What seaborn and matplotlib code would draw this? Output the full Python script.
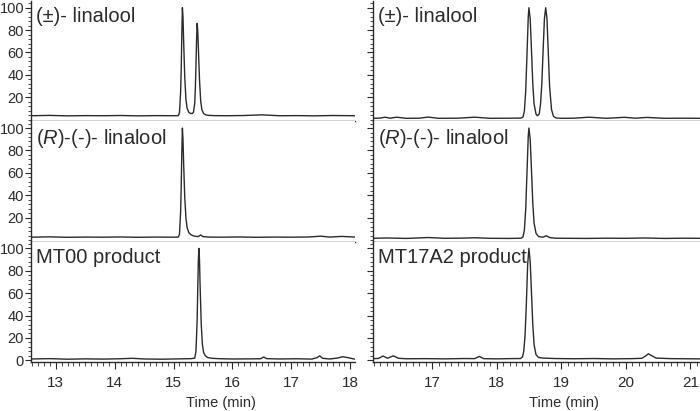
import pandas as pd
import numpy as np
import matplotlib
matplotlib.use('Agg')
import matplotlib.pyplot as plt
import seaborn as sns
from matplotlib.ticker import MultipleLocator

# Trace labels
LABELS_LEFT = ['(±)- linalool', '($\\mathit{R}$)-(-)- linalool', 'MT00 product']
LABELS_RIGHT = ['(±)- linalool', '($\\mathit{R}$)-(-)- linalool', 'MT17A2 product']

# Left column, (±)-linalool standard
t_rac_l = [12.58, 12.9, 13.2, 13.5, 13.8, 14.1, 14.4, 14.7, 15.0, 15.08, 15.10, 15.12, 15.13, 15.14,
           15.15, 15.16, 15.17, 15.19, 15.21, 15.23, 15.26, 15.29, 15.32, 15.34, 15.36, 15.37, 15.38,
           15.39, 15.40, 15.41, 15.42, 15.44, 15.46, 15.48, 15.51, 15.55, 15.6, 15.7, 15.9, 16.2,
           16.5, 16.8, 17.1, 17.4, 17.7, 18.08]
y_rac_l = [3.5, 3.8, 3.4, 3.6, 3.5, 3.7, 3.4, 3.6, 3.5, 3.6, 6, 25, 45, 75,
           100, 92, 72, 38, 18, 10, 6.5, 5.5, 5.5, 7, 15, 28, 48,
           70, 86, 80, 66, 36, 17, 9, 5.5, 4.2, 3.8, 3.6, 3.5, 3.7,
           4.3, 3.5, 3.6, 3.4, 3.7, 3.5]

# Left column, (R)-(-)-linalool standard
t_r_l = [12.58, 12.9, 13.2, 13.5, 13.8, 14.1, 14.4, 14.7, 15.0, 15.08, 15.10, 15.12, 15.13, 15.14,
         15.15, 15.16, 15.17, 15.19, 15.21, 15.23, 15.26, 15.30, 15.35, 15.42, 15.46, 15.50, 15.6,
         15.8, 16.1, 16.4, 16.7, 17.0, 17.3, 17.5, 17.65, 17.85, 18.08]
y_r_l = [2.5, 2.8, 2.4, 2.6, 2.5, 2.7, 2.4, 2.6, 2.5, 2.6, 5, 25, 48, 78,
         100, 90, 70, 38, 20, 11, 6.5, 4.5, 3.5, 3.0, 4.5, 3.0, 2.6,
         2.5, 2.7, 2.4, 2.6, 2.5, 2.7, 3.4, 2.6, 3.2, 2.6]

# Left column, MT00 product
t_mt00 = [12.58, 12.9, 13.2, 13.5, 13.8, 14.1, 14.3, 14.5, 14.8, 15.1, 15.3, 15.36, 15.38, 15.40,
          15.41, 15.42, 15.43, 15.44, 15.45, 15.47, 15.49, 15.51, 15.54, 15.58, 15.65, 15.8, 16.0,
          16.3, 16.48, 16.53, 16.58, 16.8, 17.1, 17.35, 17.44, 17.48, 17.53, 17.65, 17.78, 17.87,
          17.96, 18.08]
y_mt00 = [1.2, 1.5, 1.0, 1.3, 1.1, 1.4, 1.8, 1.2, 1.0, 1.3, 1.5, 2.0, 8, 35,
          62, 88, 100, 90, 68, 32, 14, 7, 4, 2.5, 1.8, 1.4, 1.2,
          1.3, 1.4, 3.0, 1.5, 1.2, 1.4, 1.1, 2.5, 4.0, 1.8, 1.2, 2.0, 3.2,
          2.4, 1.0]

# Right column, (±)-linalool standard
t_rac_r = [16.085, 16.2, 16.27, 16.35, 16.45, 16.6, 16.8, 16.94, 17.1, 17.4, 17.66, 17.9, 18.2,
           18.38, 18.41, 18.43, 18.45, 18.47, 18.49, 18.50, 18.52, 18.54, 18.56, 18.58, 18.61,
           18.63, 18.66, 18.68, 18.70, 18.72, 18.74, 18.76, 18.78, 18.80, 18.82, 18.85, 18.88,
           18.92, 19.0, 19.2, 19.43, 19.7, 19.98, 20.15, 20.33, 20.6, 20.9, 21.15]
y_rac_r = [1.2, 1.4, 2.2, 1.3, 2.2, 1.2, 1.3, 2.3, 1.2, 1.3, 2.2, 1.2, 1.3,
           1.4, 2.5, 8, 25, 58, 92, 100, 90, 62, 32, 14, 5,
           3.5, 5, 14, 32, 62, 90, 100, 90, 60, 30, 9, 3,
           1.5, 1.2, 1.3, 2.2, 1.2, 2.1, 1.3, 2.0, 1.2, 1.3, 1.2]

# Right column, (R)-(-)-linalool standard
t_r_r = [16.085, 16.3, 16.6, 16.94, 17.2, 17.5, 17.66, 17.9, 18.2, 18.38, 18.41, 18.43, 18.45,
         18.47, 18.49, 18.50, 18.52, 18.54, 18.56, 18.58, 18.61, 18.65, 18.72, 18.77, 18.82,
         18.9, 19.1, 19.4, 19.7, 20.0, 20.3, 20.6, 20.9, 21.15]
y_r_r = [1.5, 1.8, 1.4, 2.2, 1.5, 1.7, 2.0, 1.5, 1.4, 1.6, 3, 9, 27,
         60, 93, 100, 90, 62, 33, 15, 6, 3, 2.5, 3.8, 2.2,
         1.6, 1.5, 1.4, 1.6, 1.5, 1.8, 1.4, 1.6, 1.5]

# Right column, MT17A2 product
t_mt17 = [16.085, 16.17, 16.24, 16.31, 16.40, 16.48, 16.6, 16.9, 17.2, 17.5, 17.66, 17.73, 17.80,
          18.0, 18.2, 18.37, 18.40, 18.42, 18.44, 18.46, 18.48, 18.50, 18.52, 18.54, 18.56,
          18.58, 18.61, 18.65, 18.72, 18.9, 19.2, 19.5, 19.8, 20.1, 20.25, 20.31, 20.35, 20.40,
          20.47, 20.7, 20.9, 21.15]
y_mt17 = [1.5, 1.7, 3.8, 1.9, 4.0, 1.8, 1.4, 1.5, 1.3, 1.6, 1.5, 3.5, 1.5,
          1.3, 1.5, 1.6, 3, 8, 22, 50, 85, 100, 88, 60, 32,
          14, 5, 2.6, 2.0, 1.6, 1.4, 1.6, 1.3, 1.5, 1.8, 4.0, 5.8, 4.2,
          2.0, 1.5, 1.4, 1.3]

X_LIM_LEFT = (12.58, 18.08)
X_LIM_RIGHT = (16.085, 21.15)
XTICKS_LEFT = [13, 14, 15, 16, 17, 18]
XTICKS_RIGHT = [17, 18, 19, 20, 21]

traces_left = [(t_rac_l, y_rac_l), (t_r_l, y_r_l), (t_mt00, y_mt00)]
traces_right = [(t_rac_r, y_rac_r), (t_r_r, y_r_r), (t_mt17, y_mt17)]

sns.set_theme(style='ticks')
plt.rcParams['font.family'] = ['Liberation Sans', 'DejaVu Sans']
plt.rcParams['mathtext.fontset'] = 'custom'
plt.rcParams['mathtext.rm'] = 'Liberation Sans'
plt.rcParams['mathtext.it'] = 'Liberation Sans:italic'

INK = '#2b2b2b'

fig = plt.figure(figsize=(7, 4.11), dpi=100)
top = 1 - 1 / 411
bottom = 1 - 362 / 411
gs_l = fig.add_gridspec(3, 1, left=31 / 700, right=355 / 700, top=top, bottom=bottom, hspace=0)
gs_r = fig.add_gridspec(3, 1, left=373 / 700, right=1.0, top=top, bottom=bottom, hspace=0)

for col, (gs, traces, labels, xlim, xticks) in enumerate([
        (gs_l, traces_left, LABELS_LEFT, X_LIM_LEFT, XTICKS_LEFT),
        (gs_r, traces_right, LABELS_RIGHT, X_LIM_RIGHT, XTICKS_RIGHT)]):
    for row in range(3):
        ax = fig.add_subplot(gs[row])
        t, y = traces[row]
        df = pd.DataFrame({'time': t, 'signal': y})
        sns.lineplot(data=df, x='time', y='signal', ax=ax, color=INK, lw=1.0,
                     estimator=None, sort=False)
        ax.set_xlim(*xlim)
        ax.set_ylim(-1.5, 106)
        for s in ['top', 'right']:
            ax.spines[s].set_visible(False)
        for s in ['left', 'bottom']:
            ax.spines[s].set_color(INK)
            ax.spines[s].set_linewidth(1.0)
        ax.yaxis.set_minor_locator(MultipleLocator(4))
        if row == 2:
            ax.set_yticks([0, 20, 40, 60, 80, 100])
        else:
            ax.set_yticks([20, 40, 60, 80, 100])
        ax.tick_params(axis='y', which='major', length=4, width=0.8, color=INK,
                       labelsize=10.5, labelcolor=INK, pad=1)
        ax.tick_params(axis='y', which='minor', length=2, width=0.6, color=INK)
        if col == 1:
            ax.tick_params(axis='y', labelleft=False)
        if row == 2:
            ax.set_xticks(xticks)
            ax.xaxis.set_minor_locator(MultipleLocator(0.1))
            ax.tick_params(axis='x', which='major', length=5, width=0.8, color=INK,
                           labelsize=11, labelcolor=INK, pad=5)
            ax.tick_params(axis='x', which='minor', length=3, width=0.6, color=INK)
            ax.set_xlabel('Time (min)', fontsize=10.5, color=INK)
            ax.xaxis.set_label_coords(0.585, -0.285)
        else:
            ax.set_xticks([])
            ax.set_xlabel('')
        ax.set_ylabel('')
        ax.text(0.016, 0.95, labels[row], transform=ax.transAxes, ha='left', va='top',
                fontsize=14.5, color=INK)

fig.savefig('out.png', dpi=100)
